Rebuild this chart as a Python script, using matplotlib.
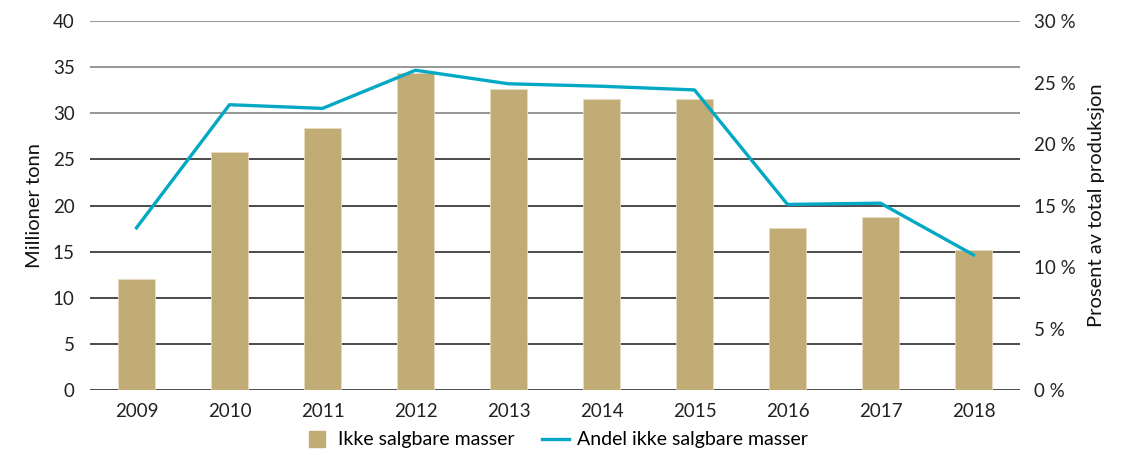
import numpy as np
import matplotlib.pyplot as plt
from matplotlib.lines import Line2D

plt.rcParams['font.family'] = ['Lato', 'DejaVu Sans']

years = ['2009', '2010', '2011', '2012', '2013', '2014', '2015', '2016', '2017', '2018']
masser = [12.1, 25.8, 28.4, 34.4, 32.6, 31.6, 31.5, 17.6, 18.8, 15.2]  # millioner tonn
andel = [13.2, 23.2, 22.9, 26.0, 24.9, 24.7, 24.4, 15.1, 15.2, 11.0]  # prosent

bar_col = '#C2AC76'
line_col = '#03A9C4'

fig = plt.figure(figsize=(11.41, 4.55), dpi=100)
ax = fig.add_axes([90 / 1141, 1 - 390.3 / 455, 930 / 1141, (390.3 - 21) / 455])
ax2 = ax.twinx()

x = np.arange(len(years))
ax.set_xlim(-0.5, len(years) - 0.5)
ax.set_ylim(0, 40)
ax2.set_ylim(0, 30)

# gridlines: top three greyish, the rest dark
for v in range(0, 45, 5):
    ax.axhline(v, color='#7a7a7a' if v >= 30 else '#1a1a1a', lw=1.1, zorder=0)

ax.bar(x, masser, width=0.39, color=bar_col, edgecolor='#e6dcc0', linewidth=0.6, zorder=2)
ax2.plot(x, andel, color=line_col, lw=2.4, zorder=3)

ax.set_zorder(ax2.get_zorder() - 1)
ax2.patch.set_visible(False)

ax.set_xticks(x)
ax.set_xticklabels(years)
ax.set_yticks(range(0, 45, 5))
ax2.set_yticks(range(0, 35, 5))
ax2.set_yticklabels([f'{v} %' for v in range(0, 35, 5)])

for a in (ax, ax2):
    for s in a.spines.values():
        s.set_visible(False)
    a.tick_params(length=0, labelsize=13.5, colors='#222222')
ax.tick_params(axis='y', pad=11)
ax.tick_params(axis='x', pad=9)
ax2.tick_params(axis='y', pad=10)

ax.set_ylabel('Millioner tonn', fontsize=14.5, color='#111111', labelpad=7)
ax2.set_ylabel('Prosent av total produksjon', fontsize=14.5, color='#111111', labelpad=9)

handles = [Line2D([], [], marker='s', ls='none', markersize=11, color=bar_col),
           Line2D([0], [0], color=line_col, lw=2.4)]
fig.legend(handles, ['Ikke salgbare masser', 'Andel ikke salgbare masser'],
           loc='center', bbox_to_anchor=(0.487, 1 - 440 / 455), ncol=2, frameon=False,
           fontsize=14, handlelength=1.4, handletextpad=0.4, columnspacing=1.4)

fig.savefig('out.png', dpi=100)
